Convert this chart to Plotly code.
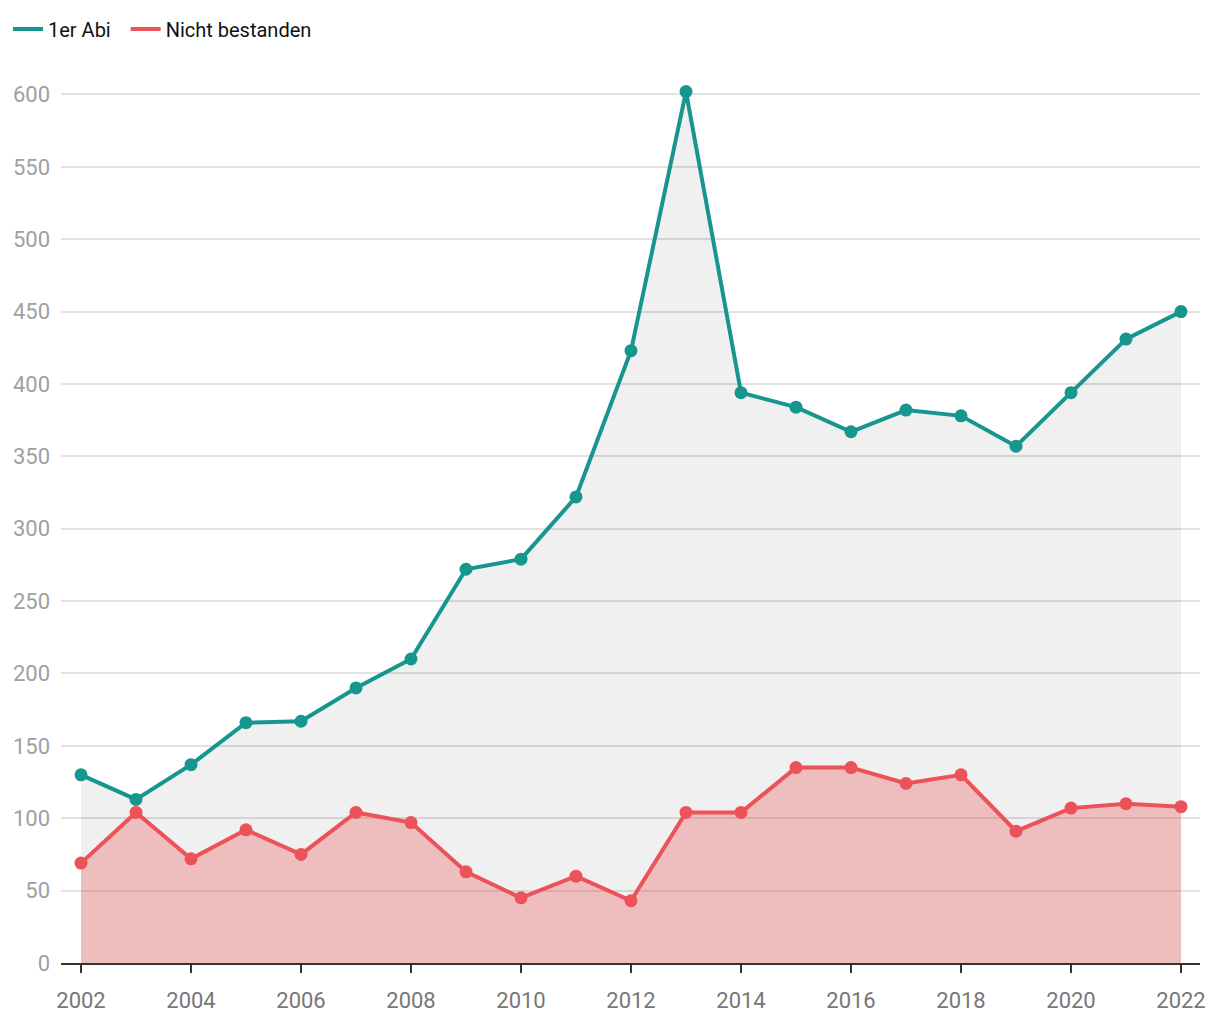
import plotly.graph_objects as go

years = list(range(2002, 2023))
erster_abi = [130, 113, 137, 166, 167, 190, 210, 272, 279, 322, 423, 602, 394, 384, 367, 382, 378, 357, 394, 431, 450]
nicht_bestanden = [69, 104, 72, 92, 75, 104, 97, 63, 45, 60, 43, 104, 104, 135, 135, 124, 130, 91, 107, 110, 108]
series_names = ["1er Abi", "Nicht bestanden"]
x_ticks = list(range(2002, 2023, 2))
y_ticks = list(range(0, 601, 50))

teal = "#17968f"
red = "#ec5259"

fig = go.Figure()
fig.add_trace(go.Scatter(
    x=years, y=erster_abi, name=series_names[0], mode="lines+markers",
    line=dict(color=teal, width=4), marker=dict(size=13, color=teal),
    fill="tozeroy", fillcolor="rgba(0,0,0,0.06)", showlegend=False,
))
fig.add_trace(go.Scatter(
    x=years, y=nicht_bestanden, name=series_names[1], mode="lines+markers",
    line=dict(color=red, width=4), marker=dict(size=13, color=red),
    fill="tozeroy", fillcolor="rgba(235,75,80,0.3)", showlegend=False,
))
# legend entries (line only)
for nm, c in zip(series_names, [teal, red]):
    fig.add_trace(go.Scatter(x=[None], y=[None], name=nm + "\u00a0\u00a0", mode="lines",
                             line=dict(color=c, width=4), showlegend=True))

fig.update_layout(
    width=1212, height=1012,
    margin=dict(l=53, r=20, t=72, b=57, autoexpand=False),
    paper_bgcolor="white", plot_bgcolor="white",
    font=dict(family="Roboto", size=20, color="#222"),
    showlegend=True,
    legend=dict(orientation="h", xref="container", yref="container",
                x=0.0, y=1 - 21 / 1012, xanchor="left", yanchor="middle",
                font=dict(size=20, color="#111"), itemwidth=30,
                tracegroupgap=0, traceorder="normal"),
    xaxis=dict(
        range=[2002 - 20 / 55, 2022 + 19 / 55], tickmode="array",
        tickvals=x_ticks, ticktext=[str(y) for y in x_ticks],
        ticks="outside", ticklen=8, tickwidth=2, tickcolor="#333",
        showgrid=False, showline=True, linecolor="#333", linewidth=2,
        zeroline=False, tickfont=dict(size=22, color="#777"),
        ticklabelstandoff=9, automargin=False,
    ),
    yaxis=dict(
        range=[0, 610], tickmode="array", tickvals=y_ticks,
        ticktext=[str(v) for v in y_ticks],
        showgrid=True, gridcolor="#e2e2e2", gridwidth=1.5,
        zeroline=False, showline=False, ticks="",
        tickfont=dict(size=22, color="#a0a0a0"), ticklabelstandoff=10,
        automargin=False,
    ),
)

fig.write_html("out.html")
